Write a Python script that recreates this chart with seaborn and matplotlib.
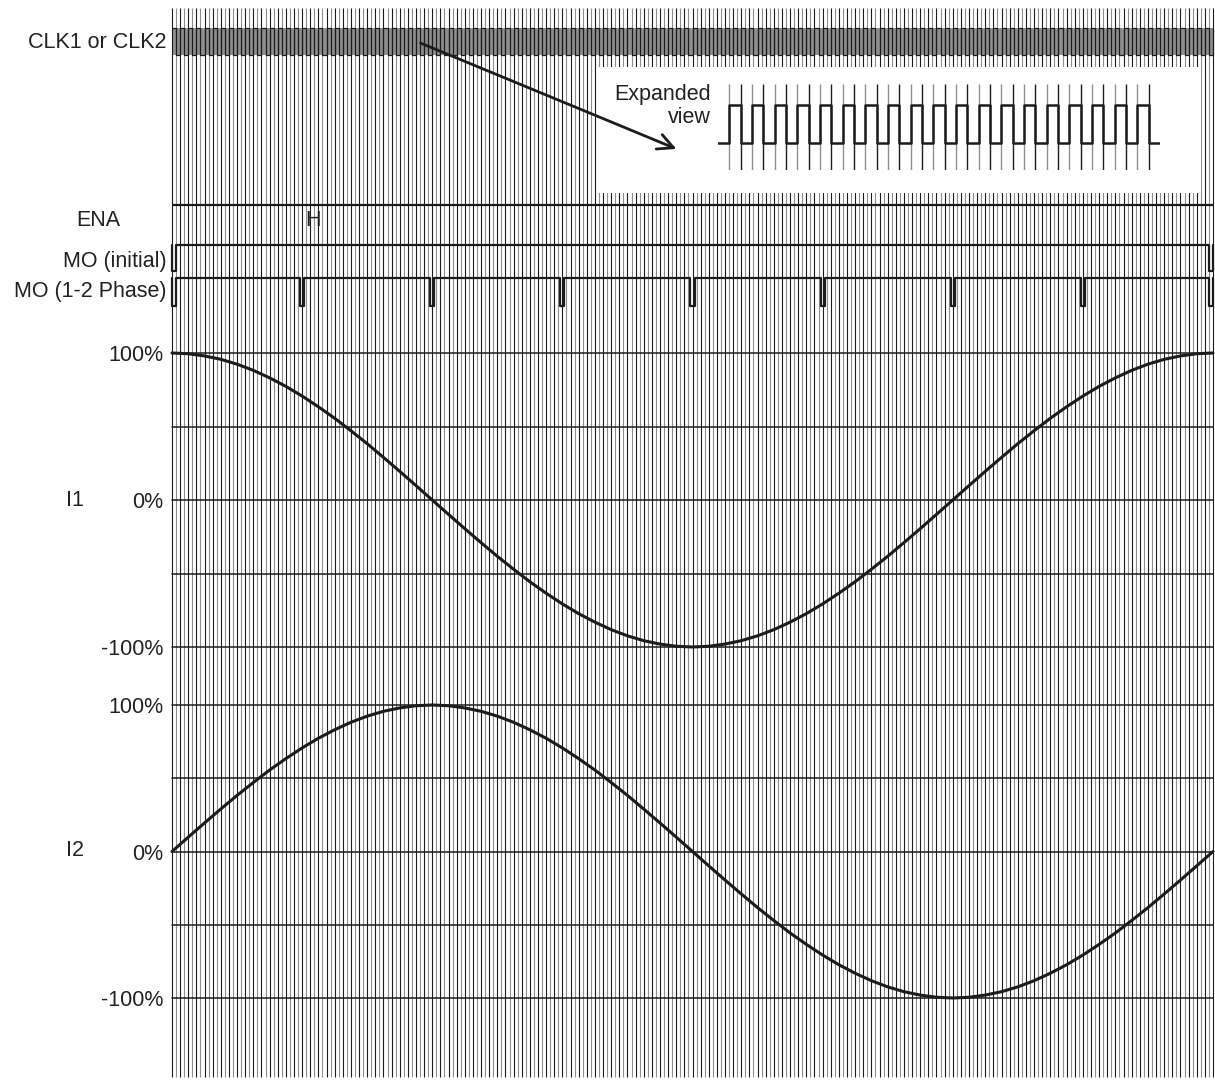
import numpy as np
import matplotlib
matplotlib.use("Agg")
import matplotlib.pyplot as plt
import seaborn as sns
import pandas as pd
from matplotlib.patches import Rectangle

sns.set_style("white")
plt.rcParams['font.family'] = ['Liberation Sans', 'DejaVu Sans']

# ---------------- data ----------------
n_edges = 256                      # clock edges across the diagram
step_pos = list(range(0, 257, 4))  # sample positions (clock edges)
i1_pct = [100, 99.5, 98, 95.7, 92.4, 88.2, 83.1, 77.3, 70.7, 63.4, 55.6, 47.1, 38.3, 29, 19.5, 9.8,
          0, -9.8, -19.5, -29, -38.3, -47.1, -55.6, -63.4, -70.7, -77.3, -83.1, -88.2, -92.4, -95.7, -98, -99.5,
          -100, -99.5, -98, -95.7, -92.4, -88.2, -83.1, -77.3, -70.7, -63.4, -55.6, -47.1, -38.3, -29, -19.5, -9.8,
          0, 9.8, 19.5, 29, 38.3, 47.1, 55.6, 63.4, 70.7, 77.3, 83.1, 88.2, 92.4, 95.7, 98, 99.5, 100]
i2_pct = [0, 9.8, 19.5, 29, 38.3, 47.1, 55.6, 63.4, 70.7, 77.3, 83.1, 88.2, 92.4, 95.7, 98, 99.5,
          100, 99.5, 98, 95.7, 92.4, 88.2, 83.1, 77.3, 70.7, 63.4, 55.6, 47.1, 38.3, 29, 19.5, 9.8,
          0, -9.8, -19.5, -29, -38.3, -47.1, -55.6, -63.4, -70.7, -77.3, -83.1, -88.2, -92.4, -95.7, -98, -99.5,
          -100, -99.5, -98, -95.7, -92.4, -88.2, -83.1, -77.3, -70.7, -63.4, -55.6, -47.1, -38.3, -29, -19.5, -9.8, 0]
mo_12_pulses = [0, 32, 64, 96, 128, 160, 192, 224, 256]
mo_init_pulses = [0, 256]
pct_ticks = [-100, 0, 100]
pct_labels = ["-100%", "0%", "100%"]
pct_grid = [-100, -50, 0, 50, 100]
exp_pulses = 19

# ---------------- layout ----------------
PW, PH = 1215, 1080
X0, X1 = 172, 1213
s = (X1 - X0) / n_edges
def u(px):
    return (px - X0) / s

DARK = '#1c1c1c'
GRAY = '#8f8f8f'
FS = 15.5

fig = plt.figure(figsize=(PW / 100, PH / 100), dpi=100)
bg = fig.add_axes([0, 0, 1, 1])
bg.set_xlim(u(0), u(PW))
bg.set_ylim(PH, 0)
bg.axis('off')

# clock band background
bg.add_patch(Rectangle((0, 28), n_edges, 27, facecolor='#8e8e8e', edgecolor='none', zorder=1))

# vertical grid lines (clock edges)
edges = np.arange(n_edges + 1)
bg.vlines(edges[edges % 2 == 0], 8, 1077, color=DARK, lw=0.8, zorder=2)
bg.vlines(edges[edges % 2 == 1], 8, 1077, color=GRAY, lw=0.8, zorder=2)

# clock square wave
clk_x = edges
clk_y = np.where(edges % 2 == 0, 28, 55)
bg.step(clk_x, clk_y, where='post', color=DARK, lw=0.9, zorder=3)

# expanded view box
bg.add_patch(Rectangle((u(598), 67), u(1201) - u(598), 126, facecolor='white', edgecolor='none', zorder=4))
bg.text(u(711), 106, "Expanded\nview", ha='right', va='center', multialignment='right',
        linespacing=1.1, fontsize=FS, color='#222222', zorder=6)

ex = fig.add_axes([718 / PW, 1 - 170 / PH, (1160 - 718) / PW, (170 - 84) / PH])
ex.set_xlim(0, 2 * exp_pulses + 1)
ex.set_ylim(170, 84)
ex.axis('off')
ex.patch.set_alpha(0)
ex_edges = np.arange(1, 2 * exp_pulses + 1)
ex.vlines(ex_edges[ex_edges % 2 == 1], 84, 170, color=GRAY, lw=1.0)
ex.vlines(ex_edges[ex_edges % 2 == 0], 84, 170, color=DARK, lw=1.0)
ex_x = np.arange(0, 2 * exp_pulses + 2)
ex_y = np.where(ex_x % 2 == 1, 105, 143)
ex_y[-1] = 143
ex.step(ex_x, ex_y, where='post', color=DARK, lw=1.8)

# arrow
bg.annotate('', xy=(u(679), 150), xytext=(u(418), 42),
            arrowprops=dict(arrowstyle='->', lw=2.0, color=DARK, mutation_scale=28),
            zorder=7)

# ENA
bg.hlines(205, 0, n_edges, color=DARK, lw=1.6, zorder=3)

def pulse_path(pulses, hi, lo, w=1.0):
    xs, ys = [0], [hi]
    for p in pulses:
        a, b = p - w / 2, p + w / 2
        if p == 0:
            a, b = 0, w
        if p == n_edges:
            a, b = n_edges - w, n_edges
        xs += [a, a, b, b]
        ys += [hi, lo, lo, hi]
    xs.append(n_edges)
    ys.append(hi)
    return xs, ys

xs, ys = pulse_path(mo_init_pulses, 245, 271)
bg.plot(xs, ys, color=DARK, lw=1.6, solid_joinstyle='round', zorder=3)
xs, ys = pulse_path(mo_12_pulses, 278, 306)
bg.plot(xs, ys, color=DARK, lw=1.6, solid_joinstyle='round', zorder=3)

# labels
lab = dict(fontsize=FS, color='#222222', va='center')
bg.text(u(166), 42, "CLK1 or CLK2", ha='right', **lab)
bg.text(u(98), 220, "ENA", ha='center', **lab)
bg.text(u(313), 220, "H", ha='center', **lab)
bg.text(u(167), 262, "MO (initial)", ha='right', **lab)
bg.text(u(167), 292, "MO (1-2 Phase)", ha='right', **lab)
bg.text(u(75), 500, "I1", ha='center', **lab)
bg.text(u(75), 851, "I2", ha='center', **lab)

# current panels
def current_axes(top_px, bot_px, values):
    ax = fig.add_axes([X0 / PW, (PH - bot_px) / PH, (X1 - X0) / PW, (bot_px - top_px) / PH])
    ax.patch.set_alpha(0)
    ax.set_xlim(0, n_edges)
    ax.set_ylim(-100, 100)
    for g in pct_grid:
        ax.axhline(g, color=DARK, lw=1.1, clip_on=False, zorder=1)
    df = pd.DataFrame({'step': step_pos, 'pct': values})
    sns.lineplot(data=df, x='step', y='pct', ax=ax, color=DARK, lw=2.2, zorder=3)
    for ln in ax.lines:
        ln.set_clip_on(False)
    ax.set_yticks(pct_ticks, pct_labels)
    ax.set_xticks([])
    ax.tick_params(axis='y', length=0, pad=6, labelsize=FS, labelcolor='#222222')
    ax.set_xlabel('')
    ax.set_ylabel('')
    for sp in ax.spines.values():
        sp.set_visible(False)
    return ax

current_axes(353, 647, i1_pct)
current_axes(705, 998, i2_pct)

fig.savefig('out.png', dpi=100)
